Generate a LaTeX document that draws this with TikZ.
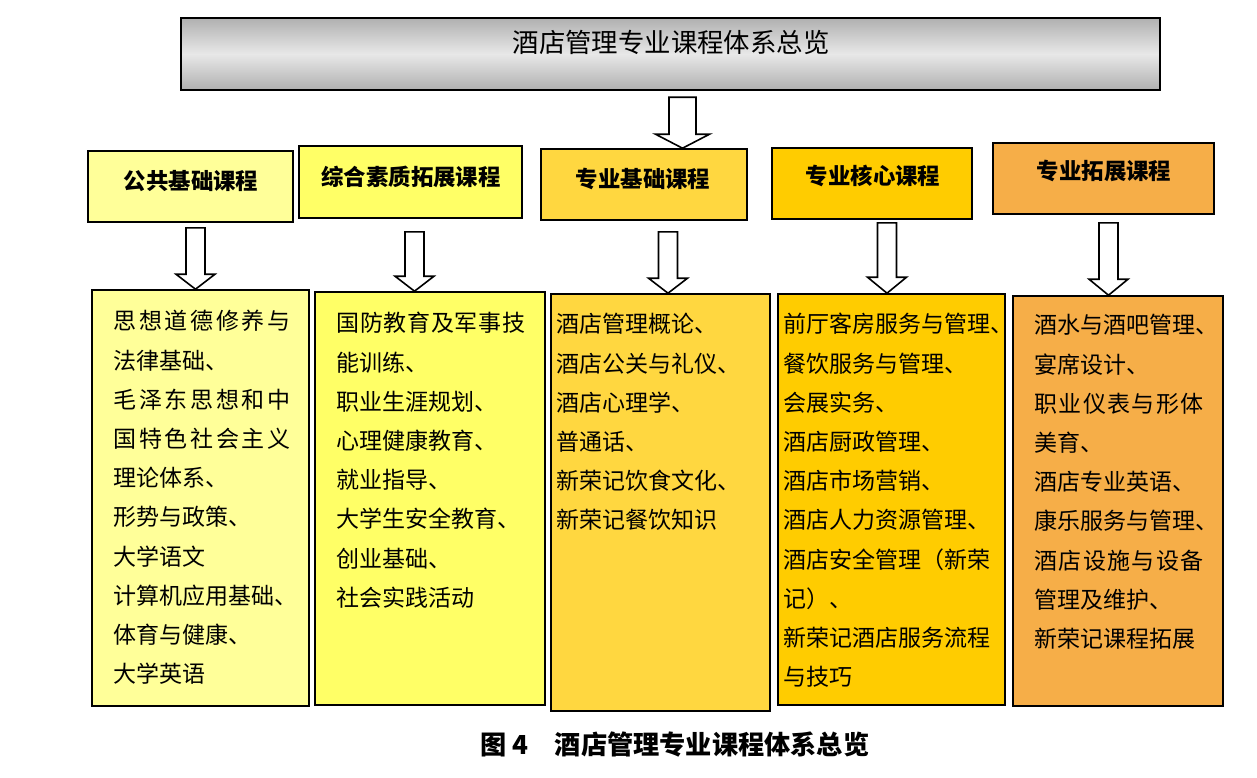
\documentclass[tikz,border=0pt]{standalone}
\usepackage{fontspec}
\setmainfont{Noto Sans CJK SC}
\usepackage{tikz}
\usetikzlibrary{calc,fit}

\definecolor{pubcol}{HTML}{FFFF99}
\definecolor{qualcol}{HTML}{FFFF66}
\definecolor{basecol}{HTML}{FFD740}
\definecolor{corecol}{HTML}{FFCC00}
\definecolor{extcol}{HTML}{F6AE48}

\tikzset{
  hbox/.style={draw=black, line width=0.8pt, inner sep=0pt},
  htext/.style={inner sep=0pt, font=\fontsize{11.2}{13}\selectfont\bfseries},
  ltext/.style={anchor=north west, align=left, inner sep=0pt, font=\fontsize{11.5}{19.6}\selectfont},
  fatarr/.style={draw=black, line width=0.8pt, fill=white, line join=miter}
}

% hollow block arrow: from, to, x (px), shaft half, head half, head length, gap
\newcommand\blockarrow[7]{%
  \draw[fatarr] let \p1=(#1.south), \p2=(#2.north), \p3=(#3,0) in
    (\x3-#4,\y1-#7) -- (\x3-#4,\y2+#6) -- (\x3-#5,\y2+#6) -- (\x3,\y2)
    -- (\x3+#5,\y2+#6) -- (\x3+#4,\y2+#6) -- (\x3+#4,\y1-#7) -- cycle;}
\newcommand\spreadline[2]{\makebox[#1][l]{#2}}

\begin{document}
\begin{tikzpicture}[x=0.5pt, y=-0.5pt]
            \useasboundingbox (0,0) rectangle (1257,777);

            % Title
            \node[hbox, line width=1.2pt, top color=gray!62, bottom color=gray!62, middle color=gray!18,
                  fit={(181,18) (1160,90)}] (title) {};
            \node[inner sep=0pt, font=\fontsize{13.2}{15}\selectfont] (ttext) at (671,42) {酒店管理专业课程体系总览};

            % Course groups
            \node[hbox, fill=pubcol, fit={(88,151) (293,222)}] (h1) {};
            \node[hbox, fill=qualcol, fit={(299,146) (522,218)}] (h2) {};
            \node[hbox, fill=basecol, fit={(541,149) (747,220)}] (h3) {};
            \node[hbox, fill=corecol, fit={(772,148) (972,219)}] (h4) {};
            \node[hbox, fill=extcol, fit={(993,143) (1214,214)}] (h5) {};
            \node[htext] (ht1) at (191,181) {公共基础课程};
            \node[htext] (ht2) at (411,177) {综合素质拓展课程};
            \node[htext] (ht3) at (643,179) {专业基础课程};
            \node[htext] (ht4) at (873,176) {专业核心课程};
            \node[htext] (ht5) at (1104,171) {专业拓展课程};

            % Course lists
            \node[hbox, fill=pubcol, fit={(92,290) (309,706)}] (b1) {};
            \node[hbox, fill=qualcol, fit={(315,292) (545,705)}] (b2) {};
            \node[hbox, fill=basecol, fit={(551,294) (770,711)}] (b3) {};
            \node[hbox, fill=corecol, fit={(778,294) (1005,705)}] (b4) {};
            \node[hbox, fill=extcol, fit={(1013,296) (1223,706)}] (b5) {};

            \node[ltext] (l1) at (113,310) {\spreadline{88.5pt}{思\hfill 想\hfill 道\hfill 德\hfill 修\hfill 养\hfill 与}\\
                法律基础、\\
                \spreadline{88.5pt}{毛\hfill 泽\hfill 东\hfill 思\hfill 想\hfill 和\hfill 中}\\
                \spreadline{88.5pt}{国\hfill 特\hfill 色\hfill 社\hfill 会\hfill 主\hfill 义}\\
                理论体系、\\形势与政策、\\大学语文\\计算机应用基础、\\体育与健康、\\大学英语};
            \node[ltext] (l2) at (336,312) {\spreadline{94.5pt}{国\hfill 防\hfill 教\hfill 育\hfill 及\hfill 军\hfill 事\hfill 技}\\
                能训练、\\职业生涯规划、\\心理健康教育、\\就业指导、\\大学生安全教育、\\创业基础、\\社会实践活动};
            \node[ltext] (l3) at (556,313) {酒店管理概论、\\酒店公关与礼仪、\\酒店心理学、\\普通话、\\新荣记饮食文化、\\新荣记餐饮知识};
            \node[ltext] (l4) at (783,313) {前厅客房服务与管理、\\餐饮服务与管理、\\会展实务、\\酒店厨政管理、\\酒店市场营销、\\酒店人力资源管理、\\酒店安全管理（新荣\\记）、\\新荣记酒店服务流程\\与技巧};
            \node[ltext] (l5) at (1034,314) {酒水与酒吧管理、\\宴席设计、\\
                \spreadline{84.5pt}{职\hfill 业\hfill 仪\hfill 表\hfill 与\hfill 形\hfill 体}\\
                美育、\\酒店专业英语、\\康乐服务与管理、\\
                \spreadline{84.5pt}{酒\hfill 店\hfill 设\hfill 施\hfill 与\hfill 设\hfill 备}\\
                管理及维护、\\新荣记课程拓展};

            % Arrows
            \blockarrow{title}{h3}{682.5}{6.75pt}{13.5pt}{7pt}{3pt}
            \blockarrow{h1}{b1}{195.5}{4.75pt}{9.75pt}{7.5pt}{2.5pt}
            \blockarrow{h2}{b2}{414.5}{4.75pt}{9.75pt}{7.5pt}{6.5pt}
            \blockarrow{h3}{b3}{668}{4.75pt}{9.75pt}{7.5pt}{5.5pt}
            \blockarrow{h4}{b4}{887}{4.75pt}{9.75pt}{8pt}{1.5pt}
            \blockarrow{h5}{b5}{1108.5}{4.75pt}{9.75pt}{8pt}{4pt}

            % Caption
            \node[inner sep=0pt, font=\fontsize{13.1}{15}\selectfont\bfseries] (cap) at (675,745) {图 4\hspace{1em}酒店管理专业课程体系总览};
\end{tikzpicture}
\end{document}
